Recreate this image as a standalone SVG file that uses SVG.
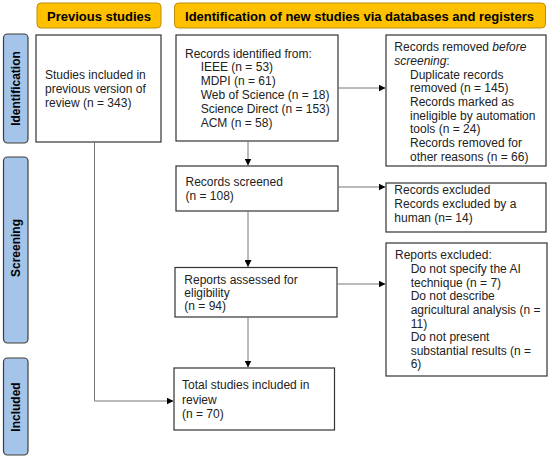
<svg xmlns="http://www.w3.org/2000/svg" width="550" height="462" viewBox="0 0 550 462">
<defs>
<marker id="ah" viewBox="0 0 10 10" refX="10" refY="5" markerWidth="7" markerHeight="7" markerUnits="userSpaceOnUse" orient="auto">
<path d="M0,0 L10,5 L0,10 z" fill="#000"/>
</marker>
<style>
.hdr{fill:#FFC000;stroke:#B8900A;stroke-width:1}
.side{fill:#A4C4EA;stroke:#3F3F3F;stroke-width:1.2}
.box{fill:#fff;stroke:#333;stroke-width:1.2}
.ht{font-family:"Liberation Sans",Arial,sans-serif;font-weight:bold;font-size:13px;fill:#000}
.st{font-family:"Liberation Sans",Arial,sans-serif;font-weight:bold;font-size:12px;fill:#000}
.t{font-family:"Liberation Sans",Arial,sans-serif;font-size:12px;fill:#222}
.c{fill:none;stroke:#777;stroke-width:1}
</style>
</defs>
<rect width="550" height="462" fill="#fff"/>
<g id="hdr-prev"><rect class="hdr" x="37" y="3" width="124" height="25" rx="4"/><text class="ht" x="99" y="20.5" text-anchor="middle">Previous studies</text></g>
<g id="hdr-new"><rect class="hdr" x="174.5" y="3" width="371" height="25" rx="4"/><text class="ht" x="359.5" y="20.5" text-anchor="middle">Identification of new studies via databases and registers</text></g>
<g id="side-ident"><rect class="side" x="3.5" y="34" width="24.5" height="109" rx="4"/><text class="st" transform="translate(20.2,88.5) rotate(-90)" text-anchor="middle">Identification</text></g>
<g id="side-screen"><rect class="side" x="3.5" y="157" width="24.5" height="186" rx="4"/><text class="st" transform="translate(20.2,248) rotate(-90)" text-anchor="middle">Screening</text></g>
<g id="side-incl"><rect class="side" x="3.5" y="358" width="24.5" height="97" rx="4"/><text class="st" transform="translate(20.2,407) rotate(-90)" text-anchor="middle">Included</text></g>
<g id="prev"><rect class="box" x="36" y="35" width="125" height="107"/>
<text class="t"><tspan x="45" y="79.3">Studies included in</tspan><tspan x="45" y="93">previous version of</tspan><tspan x="45" y="106.7">review (n = 343)</tspan></text></g>
<g id="identified"><rect class="box" x="176" y="35" width="162" height="106"/>
<text class="t"><tspan x="185" y="57.6">Records identified from:</tspan><tspan x="200.7" y="71.4">IEEE (n = 53)</tspan><tspan x="200.7" y="85.2">MDPI (n = 61)</tspan><tspan x="200.7" y="99">Web of Science (n = 18)</tspan><tspan x="200.7" y="112.8">Science Direct (n = 153)</tspan><tspan x="200.7" y="126.6">ACM (n = 58)</tspan></text></g>
<g id="removed"><rect class="box" x="386" y="35" width="160" height="131"/>
<text class="t"><tspan x="394.3" y="51">Records removed <tspan font-style="italic">before</tspan></tspan><tspan x="394.3" y="64.8" font-style="italic">screening</tspan><tspan>:</tspan><tspan x="410" y="78.5">Duplicate records</tspan><tspan x="410" y="92.2">removed (n = 145)</tspan><tspan x="410" y="105.9">Records marked as</tspan><tspan x="410" y="119.6">ineligible by automation</tspan><tspan x="410" y="133.3">tools (n = 24)</tspan><tspan x="410" y="147">Records removed for</tspan><tspan x="410" y="160.5">other reasons (n = 66)</tspan></text></g>
<g id="screened"><rect class="box" x="176" y="166" width="162" height="45"/>
<text class="t"><tspan x="185.5" y="186">Records screened</tspan><tspan x="185.5" y="199.5">(n = 108)</tspan></text></g>
<g id="excluded"><rect class="box" x="386" y="183" width="160" height="49"/>
<text class="t"><tspan x="394.3" y="194.3">Records excluded</tspan><tspan x="394.3" y="207.8">Records excluded by a</tspan><tspan x="394.3" y="221.6">human (n= 14)</tspan></text></g>
<g id="assessed"><rect class="box" x="175" y="267.5" width="162" height="49.5"/>
<text class="t"><tspan x="184.3" y="283.6">Reports assessed for</tspan><tspan x="184.3" y="297">eligibility</tspan><tspan x="184.3" y="309.5">(n = 94)</tspan></text></g>
<g id="rep-excluded"><rect class="box" x="386" y="243" width="161" height="133"/>
<text class="t"><tspan x="395" y="259.3">Reports excluded:</tspan><tspan x="410.7" y="273">Do not specify the AI</tspan><tspan x="410.7" y="287">technique (n = 7)</tspan><tspan x="410.7" y="300.3">Do not describe</tspan><tspan x="410.7" y="314">agricultural analysis (n =</tspan><tspan x="410.7" y="327.6">11)</tspan><tspan x="410.7" y="341.3">Do not present</tspan><tspan x="410.7" y="354.6">substantial results (n =</tspan><tspan x="410.7" y="368">6)</tspan></text></g>
<g id="total"><rect class="box" x="174" y="368" width="160.5" height="62"/>
<text class="t"><tspan x="182" y="389.3">Total studies included in</tspan><tspan x="182" y="403.6">review</tspan><tspan x="182" y="418">(n = 70)</tspan></text></g>
<g id="connectors">
<path class="c" d="M338,88 H385.5" marker-end="url(#ah)"/>
<path class="c" d="M248,141 V165.5" marker-end="url(#ah)"/>
<path class="c" d="M338,187 H385.5" marker-end="url(#ah)"/>
<path class="c" d="M248,211 V267" marker-end="url(#ah)"/>
<path class="c" d="M337,284 H385.5" marker-end="url(#ah)"/>
<path class="c" d="M248,317 V367.5" marker-end="url(#ah)"/>
<path class="c" d="M94.5,142 V401 H173.5" marker-end="url(#ah)"/>
</g>
</svg>
